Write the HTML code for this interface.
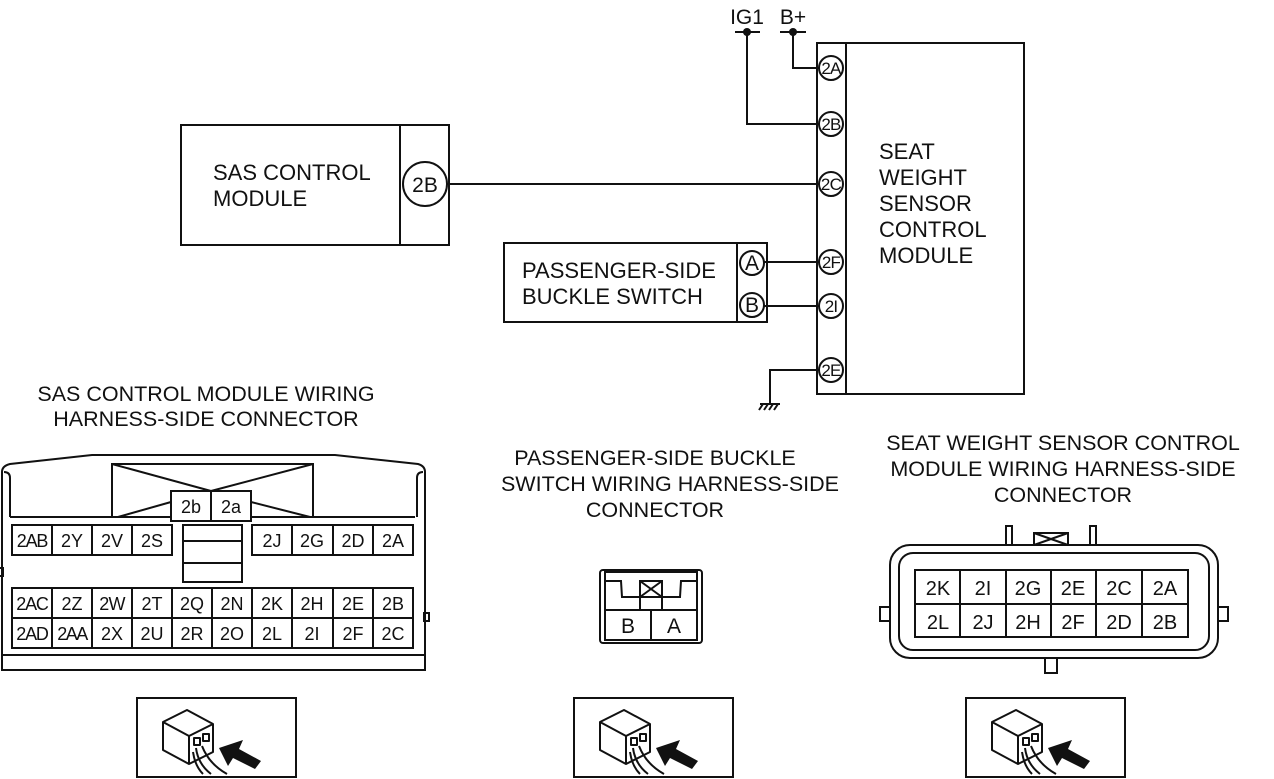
<!DOCTYPE html>
<html><head><meta charset="utf-8"><style>
html,body{margin:0;padding:0;background:#fff}
svg{display:block}
text{font-family:"Liberation Sans",Arial,sans-serif;fill:#111}
</style></head><body>
<svg width="1274" height="779" viewBox="0 0 1274 779" xmlns="http://www.w3.org/2000/svg">
<defs>
<g id="icon">
<rect x="0" y="0" width="159" height="79" fill="#fff" stroke="#111" stroke-width="2"/>
<g stroke="#111" stroke-width="2" fill="#fff" stroke-linejoin="round">
<path d="M26,24 L50,12 L76,26 L76,54 L52,66 L26,52 Z"/>
<path d="M26,24 L52,38 L76,26 M52,38 L52,66"/>
<rect x="57" y="40" width="6" height="7"/><rect x="66" y="36" width="6" height="7"/>
<path d="M59,50 Q61,66 74,76 M65,48 Q72,66 90,76 M56,54 Q58,68 66,76" fill="none"/>
</g>
<path d="M82,50 L106,42 L102,51 L124,63 L118,71 L96,60 L91,68 Z" fill="#111"/>
</g>
</defs>
<g stroke="#111" stroke-width="2" fill="none">
<rect x="817" y="43" width="207" height="351"/>
<line x1="846" y1="43" x2="846" y2="394"/>
<line x1="735" y1="32" x2="760" y2="32"/><line x1="780" y1="32" x2="806" y2="32"/>
<polyline points="747,32 747,124 819,124"/>
<polyline points="793,32 793,68 819,68"/>
<rect x="181" y="125" width="268" height="120"/>
<line x1="400" y1="125" x2="400" y2="245"/>
<line x1="447" y1="184" x2="819" y2="184"/>
<rect x="504" y="243" width="263" height="79"/>
<line x1="737" y1="243" x2="737" y2="322"/>
<line x1="764" y1="262" x2="819" y2="262"/>
<line x1="764" y1="306" x2="819" y2="306"/>
<polyline points="819,370 770,370 770,404"/>
<line x1="760" y1="404" x2="780" y2="404"/>
<line x1="759" y1="410" x2="763" y2="404"/><line x1="764" y1="410" x2="768" y2="404"/><line x1="769" y1="410" x2="773" y2="404"/><line x1="774" y1="410" x2="778" y2="404"/>
</g>
<circle cx="747" cy="32" r="4" fill="#111"/><circle cx="793" cy="32" r="4" fill="#111"/>
<g fill="#fff" stroke="#111" stroke-width="2">
<circle cx="831" cy="68" r="12"/><circle cx="831" cy="124" r="12"/><circle cx="831" cy="184" r="12"/>
<circle cx="831" cy="262" r="12"/><circle cx="831" cy="306" r="12"/><circle cx="831" cy="370" r="12"/>
<circle cx="425" cy="184" r="22"/>
<circle cx="752" cy="263" r="12"/><circle cx="752" cy="305" r="12"/>
</g>
<g font-size="17" text-anchor="middle" letter-spacing="-0.8">
<text x="831" y="74">2A</text><text x="831" y="130">2B</text><text x="831" y="190">2C</text>
<text x="831" y="268">2F</text><text x="831" y="312">2I</text><text x="831" y="376">2E</text>
</g>
<g font-size="21" text-anchor="middle">
<text x="425" y="192">2B</text><text x="752" y="270">A</text><text x="752" y="312">B</text>
<text x="747" y="24">IG1</text><text x="793" y="24">B+</text>
</g>
<g font-size="22">
<text x="213" y="180">SAS CONTROL</text><text x="213" y="206">MODULE</text>
<text x="522" y="278">PASSENGER-SIDE</text><text x="522" y="304">BUCKLE SWITCH</text>
<text x="879" y="159">SEAT</text><text x="879" y="185">WEIGHT</text><text x="879" y="211">SENSOR</text><text x="879" y="237">CONTROL</text><text x="879" y="263">MODULE</text>
</g>
<g font-size="21.5" text-anchor="middle">
<text x="206" y="401">SAS CONTROL MODULE WIRING</text><text x="206" y="426">HARNESS-SIDE CONNECTOR</text>
<text x="655" y="465">PASSENGER-SIDE BUCKLE</text><text x="670" y="491">SWITCH WIRING HARNESS-SIDE</text><text x="655" y="517">CONNECTOR</text>
<text x="1063" y="450">SEAT WEIGHT SENSOR  CONTROL</text><text x="1063" y="476">MODULE WIRING HARNESS-SIDE</text><text x="1063" y="502">CONNECTOR</text>
</g>
<g stroke="#111" stroke-width="2" fill="none">
<path d="M2,670 L2,472 Q2,466 10,464 L92,455 L335,455 L418,464 Q425,466 425,472 L425,670 Z"/>
<path d="M10,517 L10,478 Q10,472 4,472 M417,517 L417,478 Q417,472 423,472"/>
<line x1="10" y1="517" x2="415" y2="517"/>
<line x1="2" y1="655" x2="425" y2="655"/>
<rect x="-2" y="568" width="5" height="8"/><rect x="424" y="613" width="5" height="8"/>
<rect x="112" y="464" width="201" height="53"/>
<line x1="112" y1="464" x2="211" y2="491"/><line x1="313" y1="464" x2="211" y2="491"/>
<line x1="171" y1="502" x2="118" y2="517"/><line x1="251" y1="502" x2="310" y2="517"/>
<rect x="171" y="491" width="80" height="30" fill="#fff"/><line x1="211" y1="491" x2="211" y2="521"/>
<rect x="183" y="525" width="59" height="57"/><line x1="183" y1="541" x2="242" y2="541"/><line x1="183" y1="563" x2="242" y2="563"/>
<rect x="12" y="525" width="160" height="30"/>
<line x1="52" y1="525" x2="52" y2="555"/><line x1="92" y1="525" x2="92" y2="555"/><line x1="132" y1="525" x2="132" y2="555"/>
<rect x="252" y="525" width="161" height="30"/>
<line x1="292" y1="525" x2="292" y2="555"/><line x1="333" y1="525" x2="333" y2="555"/><line x1="373" y1="525" x2="373" y2="555"/>
<rect x="12" y="588" width="401" height="60"/><line x1="12" y1="618" x2="413" y2="618"/>
<line x1="52" y1="588" x2="52" y2="648"/><line x1="92" y1="588" x2="92" y2="648"/><line x1="132" y1="588" x2="132" y2="648"/><line x1="172" y1="588" x2="172" y2="648"/><line x1="212" y1="588" x2="212" y2="648"/><line x1="252" y1="588" x2="252" y2="648"/><line x1="292" y1="588" x2="292" y2="648"/><line x1="333" y1="588" x2="333" y2="648"/><line x1="373" y1="588" x2="373" y2="648"/>
</g>
<g font-size="18" text-anchor="middle">
<text x="191" y="513">2b</text><text x="231" y="513">2a</text>
<text x="32" y="547" letter-spacing="-1.2">2AB</text><text x="72" y="547">2Y</text><text x="112" y="547">2V</text><text x="152" y="547">2S</text>
<text x="272" y="547">2J</text><text x="312" y="547">2G</text><text x="353" y="547">2D</text><text x="393" y="547">2A</text>
<text x="32" y="610" letter-spacing="-1.2">2AC</text><text x="72" y="610">2Z</text><text x="112" y="610" letter-spacing="-0.8">2W</text><text x="152" y="610">2T</text><text x="192" y="610">2Q</text><text x="232" y="610">2N</text><text x="272" y="610">2K</text><text x="312" y="610">2H</text><text x="353" y="610">2E</text><text x="393" y="610">2B</text>
<text x="32" y="640" letter-spacing="-1.2">2AD</text><text x="72" y="640" letter-spacing="-1.5">2AA</text><text x="112" y="640">2X</text><text x="152" y="640">2U</text><text x="192" y="640">2R</text><text x="232" y="640">2O</text><text x="272" y="640">2L</text><text x="312" y="640">2I</text><text x="353" y="640">2F</text><text x="393" y="640">2C</text>
</g>
<g stroke="#111" stroke-width="2" fill="none">
<rect x="600" y="570" width="102" height="73" rx="3"/>
<rect x="605" y="572" width="92" height="68"/>
<line x1="605" y1="610" x2="697" y2="610"/><line x1="651" y1="610" x2="651" y2="640"/>
<path d="M605,581 L621,581 L622,597 L680,597 L681,581 L697,581"/>
<rect x="640" y="581" width="22" height="16"/><line x1="640" y1="581" x2="662" y2="597"/><line x1="662" y1="581" x2="640" y2="597"/>
<path d="M640,597 L640,610 M662,597 L662,610"/>
</g>
<g font-size="21" text-anchor="middle"><text x="628" y="633">B</text><text x="674" y="633">A</text></g>
<g stroke="#111" stroke-width="2" fill="none">
<path d="M1006,545 L1006,526 L1012,526 L1012,545 M1090,545 L1090,526 L1096,526 L1096,545"/>
<rect x="1034" y="533" width="34" height="12"/><line x1="1034" y1="533" x2="1068" y2="545"/><line x1="1068" y1="533" x2="1034" y2="545"/>
<rect x="890" y="545" width="328" height="113" rx="20"/>
<rect x="899" y="553" width="310" height="97" rx="14"/>
<path d="M890,607 L880,607 L880,621 L890,621 M1218,607 L1228,607 L1228,621 L1218,621 M1045,658 L1045,673 L1057,673 L1057,658"/>
<rect x="915" y="570" width="273" height="67"/><line x1="915" y1="604" x2="1188" y2="604"/>
<line x1="960" y1="570" x2="960" y2="637"/><line x1="1006" y1="570" x2="1006" y2="637"/><line x1="1051" y1="570" x2="1051" y2="637"/><line x1="1096" y1="570" x2="1096" y2="637"/><line x1="1142" y1="570" x2="1142" y2="637"/>
</g>
<g font-size="20" text-anchor="middle">
<text x="938" y="595">2K</text><text x="983" y="595">2I</text><text x="1028" y="595">2G</text><text x="1073" y="595">2E</text><text x="1119" y="595">2C</text><text x="1165" y="595">2A</text>
<text x="938" y="629">2L</text><text x="983" y="629">2J</text><text x="1028" y="629">2H</text><text x="1073" y="629">2F</text><text x="1119" y="629">2D</text><text x="1165" y="629">2B</text>
</g>
<use href="#icon" x="137" y="698"/>
<use href="#icon" x="574" y="698"/>
<use href="#icon" x="966" y="698"/>
</svg>
</body></html>
